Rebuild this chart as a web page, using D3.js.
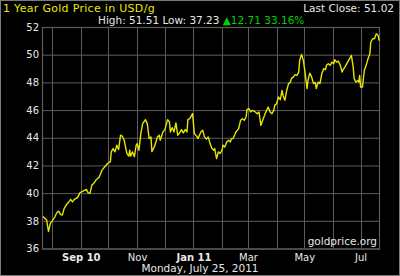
<!DOCTYPE html>
<html>
<head>
<meta charset="utf-8">
<script src="https://cdn.jsdelivr.net/npm/d3@7"></script>
<style>
body { margin: 0; background: #000; }
svg { display: block; }
text { font-family: "DejaVu Sans", Verdana, sans-serif; }
</style>
</head>
<body>
<svg></svg>
<script>
// daily-ish closes (USD per gram)
const dates = [
  '2010-07-22','2010-07-26','2010-07-28','2010-07-30','2010-08-01','2010-08-04','2010-08-06','2010-08-08',
  '2010-08-10','2010-08-12','2010-08-14','2010-08-17','2010-08-20','2010-08-21','2010-08-23','2010-08-25',
  '2010-08-27','2010-08-29','2010-08-31','2010-09-04','2010-09-07','2010-09-09','2010-09-11','2010-09-13',
  '2010-09-15','2010-09-18','2010-09-21','2010-09-24','2010-09-27','2010-09-30','2010-10-03','2010-10-04',
  '2010-10-06','2010-10-08','2010-10-10','2010-10-12','2010-10-14','2010-10-16','2010-10-18','2010-10-20',
  '2010-10-21','2010-10-23','2010-10-24','2010-10-25','2010-10-27','2010-10-29','2010-10-31','2010-11-01',
  '2010-11-03','2010-11-05','2010-11-07','2010-11-10','2010-11-12','2010-11-14','2010-11-16','2010-11-17',
  '2010-11-20','2010-11-23','2010-11-25','2010-11-26','2010-11-29','2010-12-01','2010-12-04','2010-12-06',
  '2010-12-07','2010-12-09','2010-12-11','2010-12-13','2010-12-15','2010-12-17','2010-12-19','2010-12-21',
  '2010-12-23','2010-12-25','2010-12-26','2010-12-28','2010-12-30','2010-12-31','2011-01-02','2011-01-05',
  '2011-01-06','2011-01-09','2011-01-11','2011-01-13','2011-01-15','2011-01-17','2011-01-19','2011-01-21',
  '2011-01-23','2011-01-24','2011-01-26','2011-01-28','2011-01-30','2011-02-01','2011-02-02','2011-02-04',
  '2011-02-06','2011-02-08','2011-02-10','2011-02-11','2011-02-13','2011-02-16','2011-02-19','2011-02-21',
  '2011-02-23','2011-02-25','2011-02-27','2011-02-28','2011-03-02','2011-03-04','2011-03-06','2011-03-09',
  '2011-03-11','2011-03-13','2011-03-15','2011-03-17','2011-03-19','2011-03-21','2011-03-23','2011-03-25',
  '2011-03-27','2011-03-29','2011-03-30','2011-04-01','2011-04-03','2011-04-05','2011-04-07','2011-04-08',
  '2011-04-10','2011-04-12','2011-04-14','2011-04-16','2011-04-17','2011-04-19','2011-04-21','2011-04-23',
  '2011-04-25','2011-04-26','2011-04-28','2011-04-30','2011-05-02','2011-05-04','2011-05-05','2011-05-07',
  '2011-05-09','2011-05-11','2011-05-13','2011-05-14','2011-05-16','2011-05-18','2011-05-20','2011-05-22',
  '2011-05-24','2011-05-25','2011-05-27','2011-05-29','2011-05-31','2011-06-02','2011-06-03','2011-06-05',
  '2011-06-07','2011-06-09','2011-06-11','2011-06-12','2011-06-14','2011-06-16','2011-06-18','2011-06-20',
  '2011-06-21','2011-06-23','2011-06-24','2011-06-26','2011-06-28','2011-06-29','2011-06-30','2011-07-01',
  '2011-07-03','2011-07-05','2011-07-07','2011-07-09','2011-07-11','2011-07-12','2011-07-14','2011-07-16',
  '2011-07-18','2011-07-20','2011-07-21'
]
const prices = [
  38.31,38.05,37.23,37.82,38.00,38.29,38.58,38.70,
  38.46,38.41,38.90,39.21,39.44,39.55,39.37,39.55,
  39.62,39.73,40.02,40.17,40.27,40.02,39.98,40.58,
  40.70,40.99,41.17,41.66,41.90,42.14,42.26,42.98,
  43.22,42.98,43.46,43.15,44.18,44.11,43.82,43.15,
  42.86,42.67,43.10,42.67,42.98,42.62,43.46,43.58,
  43.10,44.30,45.02,45.31,45.02,43.94,44.06,43.00,
  43.40,44.06,44.18,43.82,44.42,44.59,45.31,45.14,
  44.42,44.73,44.42,45.07,44.18,44.35,44.59,44.35,
  44.59,44.42,45.31,45.38,45.62,45.74,44.30,44.06,
  43.94,44.42,44.54,44.06,43.90,44.06,43.58,43.22,
  43.10,43.22,42.50,42.98,42.86,43.10,43.46,43.34,
  43.70,43.82,43.70,43.94,43.94,44.42,44.66,45.26,
  45.38,45.26,45.50,46.03,46.10,45.86,45.98,45.86,
  45.74,45.86,44.90,45.26,45.62,45.95,46.22,45.86,
  45.74,45.98,46.34,46.46,46.94,46.75,47.42,47.06,
  46.70,47.42,47.91,48.02,48.27,48.38,48.56,48.50,
  48.74,49.59,50.02,49.59,48.63,47.55,48.14,48.67,
  48.38,47.91,48.00,47.55,48.02,47.91,48.63,48.99,
  48.92,49.23,49.35,49.23,49.46,49.35,49.64,49.46,
  49.53,49.23,48.74,48.92,49.10,49.35,49.59,49.82,
  49.95,49.10,48.27,48.02,48.14,48.02,48.50,47.66,
  47.66,48.86,49.23,49.71,50.07,50.90,51.15,51.15,
  51.51,51.39,51.02
]
const yTicks = [36, 38, 40, 42, 44, 46, 48, 50, 52]
const xTickDates = ['2010-09-01','2010-11-01','2011-01-01','2011-03-01','2011-05-01','2011-07-01']
const xTickLabels = ['Sep 10','Nov','Jan 11','Mar','May','Jul']

const W = 400, H = 276
const mLeft = 42, mRight = 380, mTop = 27, mBottom = 248.5
const parse = d3.timeParse('%Y-%m-%d')
const data = dates.map((d, i) => ({date: parse(d), price: prices[i]}))

const x = d3.scaleTime()
    .domain([parse('2010-07-21'), parse('2011-07-22')])
    .range([mLeft, mRight])
const y = d3.scaleLinear()
    .domain([36, 52])
    .range([mBottom, mTop])

const svg = d3.select('svg')
    .attr('width', W)
    .attr('height', H)

svg.append('rect')
    .attr('x', 0.5).attr('y', 0.5)
    .attr('width', W - 1).attr('height', H - 1)
    .attr('fill', '#000')
    .attr('stroke', '#7a7a7a')

const GRID = '#5c5c5c'

// vertical gridlines at every month start
const months = d3.timeMonth.range(parse('2010-08-01'), parse('2011-07-02'))
svg.append('g')
    .selectAll('line')
    .data(months)
    .join('line')
    .attr('x1', d => Math.round(x(d)) + 0.5)
    .attr('x2', d => Math.round(x(d)) + 0.5)
    .attr('y1', mTop)
    .attr('y2', mBottom)
    .attr('stroke', GRID)

// y axis with gridlines
const yAxis = svg.append('g')
    .attr('transform', `translate(${mLeft},0)`)
    .call(d3.axisLeft(y).tickValues(yTicks).tickSize(-(mRight - mLeft)).tickPadding(3).tickFormat(d3.format('d')))
yAxis.select('.domain').remove()
yAxis.selectAll('line').attr('stroke', GRID)
yAxis.selectAll('text')
    .attr('fill', '#e8e8e8')
    .style('font-size', '10px')
    .style('font-family', '"DejaVu Sans", Verdana, sans-serif')

// plot frame
svg.append('rect')
    .attr('x', mLeft + 0.5).attr('y', mTop + 0.5)
    .attr('width', mRight - mLeft - 1).attr('height', mBottom - mTop)
    .attr('fill', 'none')
    .attr('stroke', GRID)
    .attr('stroke-width', 1.2)

// x axis labels
const xAxis = svg.append('g')
    .attr('transform', `translate(0,${mBottom})`)
    .call(d3.axisBottom(x)
        .tickValues(xTickDates.map(parse))
        .tickSize(0)
        .tickPadding(5)
        .tickFormat((d, i) => xTickLabels[i]))
xAxis.select('.domain').remove()
xAxis.selectAll('text')
    .attr('fill', '#e8e8e8')
    .style('font-size', '10px')
    .style('font-family', '"DejaVu Sans", Verdana, sans-serif')
    .style('font-weight', (d, i) => xTickLabels[i].includes(' ') ? 'bold' : 'normal')

// price line
svg.append('path')
    .datum(data)
    .attr('fill', 'none')
    .attr('stroke', '#e6e600')
    .attr('stroke-width', 1.4)
    .attr('stroke-linejoin', 'round')
    .attr('d', d3.line().x(d => x(d.date)).y(d => y(d.price)))

// texts
svg.append('text')
    .attr('x', 3).attr('y', 12)
    .attr('fill', '#e8e800')
    .style('font-size', '11px')
    .style('letter-spacing', '0.3px')
    .text('1 Year Gold Price in USD/g')

svg.append('text')
    .attr('x', 394).attr('y', 12)
    .attr('text-anchor', 'end')
    .attr('fill', '#e8e8e8')
    .style('font-size', '10.5px')
    .text('Last Close: 51.02')

const hl = svg.append('text')
    .attr('x', 98).attr('y', 24)
    .attr('fill', '#e8e8e8')
    .style('font-size', '10.5px')
hl.append('tspan').text('High: 51.51 Low: 37.23 ')
hl.append('tspan').attr('fill', '#00d000').text('\u25B212.71 33.16%')

svg.append('text')
    .attr('x', 377).attr('y', 245)
    .attr('text-anchor', 'end')
    .attr('fill', '#e8e8e8')
    .style('font-size', '10.5px')
    .text('goldprice.org')

svg.append('text')
    .attr('x', 200).attr('y', 272)
    .attr('text-anchor', 'middle')
    .attr('fill', '#e8e8e8')
    .style('font-size', '10.5px')
    .text('Monday, July 25, 2011')
</script>
</body>
</html>
